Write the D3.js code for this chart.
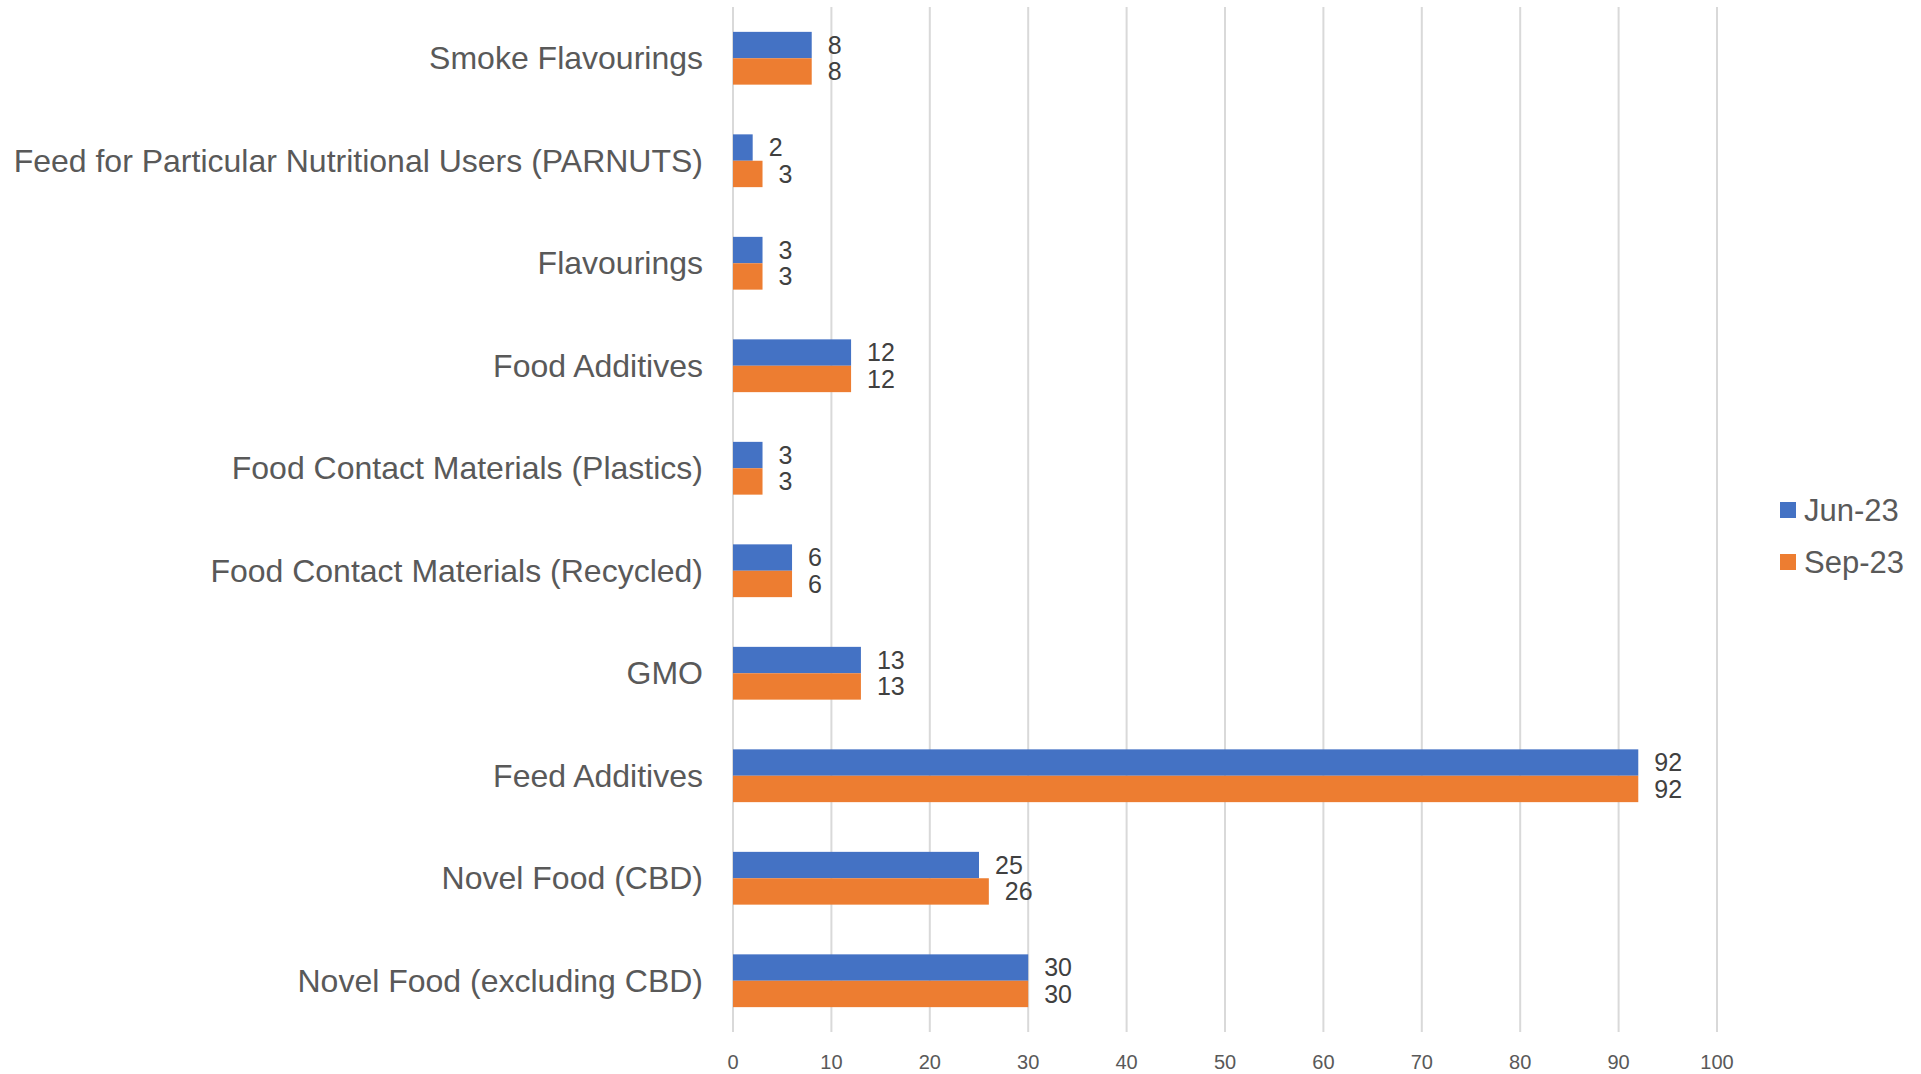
<!DOCTYPE html>
<html>
<head>
<meta charset="utf-8">
<script src="https://cdn.jsdelivr.net/npm/d3@7"></script>
<style>
  body { margin: 0; background: #fff; }
  svg { display: block; font-family: Arial, "Liberation Sans", sans-serif; }
</style>
</head>
<body>
<script>
// chart data
var categories = ["Smoke Flavourings", "Feed for Particular Nutritional Users (PARNUTS)", "Flavourings",
  "Food Additives", "Food Contact Materials (Plastics)", "Food Contact Materials (Recycled)", "GMO",
  "Feed Additives", "Novel Food (CBD)", "Novel Food (excluding CBD)"];
var seriesNames = ["Jun-23", "Sep-23"];
var jun23 = [8, 2, 3, 12, 3, 6, 13, 92, 25, 30];
var sep23 = [8, 3, 3, 12, 3, 6, 13, 92, 26, 30];
var xTicks = [0, 10, 20, 30, 40, 50, 60, 70, 80, 90, 100];
var colors = ["#4472C4", "#ED7D31"];

var width = 1921, height = 1074;
var plotLeft = 733, plotRight = 1717, plotTop = 7, plotBottom = 1032;

var svg = d3.select("body").append("svg")
  .attr("width", width)
  .attr("height", height);

var x = d3.scaleLinear().domain([0, 100]).range([plotLeft, plotRight]);
var y = d3.scaleBand().domain(categories).range([plotTop, plotBottom]).paddingInner(0.485).paddingOuter(0.2425);
var ySub = d3.scaleBand().domain(seriesNames).range([0, y.bandwidth()]);

//gridlines
svg.selectAll(".grid")
  .data(xTicks)
  .enter()
  .append("line")
  .attr("class", "grid")
  .attr("x1", function(d){ return x(d); })
  .attr("x2", function(d){ return x(d); })
  .attr("y1", plotTop)
  .attr("y2", plotBottom)
  .attr("stroke", "#D9D9D9")
  .attr("stroke-width", 2);

//tick labels
svg.selectAll(".tick")
  .data(xTicks)
  .enter()
  .append("text")
  .attr("class", "tick")
  .attr("x", function(d){ return x(d); })
  .attr("y", 1062)
  .attr("dy", "0.35em")
  .attr("text-anchor", "middle")
  .attr("font-size", 20)
  .attr("fill", "#595959")
  .text(function(d){ return d; });

//category labels
svg.selectAll(".cat")
  .data(categories)
  .enter()
  .append("text")
  .attr("class", "cat")
  .attr("x", 703)
  .attr("y", function(d){ return y(d) + y.bandwidth() / 2; })
  .attr("dy", "0.35em")
  .attr("text-anchor", "end")
  .attr("font-size", 32)
  .attr("fill", "#595959")
  .text(function(d){ return d; });

var rows = [];
categories.forEach(function(c, i){
  rows.push({cat: c, series: seriesNames[0], value: jun23[i], color: colors[0]});
  rows.push({cat: c, series: seriesNames[1], value: sep23[i], color: colors[1]});
});

//bars
svg.selectAll(".bar")
  .data(rows)
  .enter()
  .append("rect")
  .attr("class", "bar")
  .attr("x", x(0))
  .attr("y", function(d){ return y(d.cat) + ySub(d.series); })
  .attr("width", function(d){ return x(d.value) - x(0); })
  .attr("height", ySub.bandwidth())
  .attr("fill", function(d){ return d.color; });

//value labels
svg.selectAll(".val")
  .data(rows)
  .enter()
  .append("text")
  .attr("class", "val")
  .attr("x", function(d){ return x(d.value) + 16; })
  .attr("y", function(d){ return y(d.cat) + ySub(d.series) + ySub.bandwidth() / 2; })
  .attr("dy", "0.35em")
  .attr("font-size", 25)
  .attr("fill", "#404040")
  .text(function(d){ return d.value; });

//legend
var legend = svg.selectAll(".legend")
  .data(seriesNames)
  .enter()
  .append("g")
  .attr("class", "legend")
  .attr("transform", function(d, i){ return "translate(1780," + (510 + i * 52) + ")"; });

legend.append("rect")
  .attr("x", 0)
  .attr("y", -8)
  .attr("width", 16)
  .attr("height", 16)
  .attr("fill", function(d, i){ return colors[i]; });

legend.append("text")
  .attr("x", 24)
  .attr("y", 0)
  .attr("dy", "0.35em")
  .attr("font-size", 31)
  .attr("fill", "#595959")
  .text(function(d){ return d; });
</script>
</body>
</html>
